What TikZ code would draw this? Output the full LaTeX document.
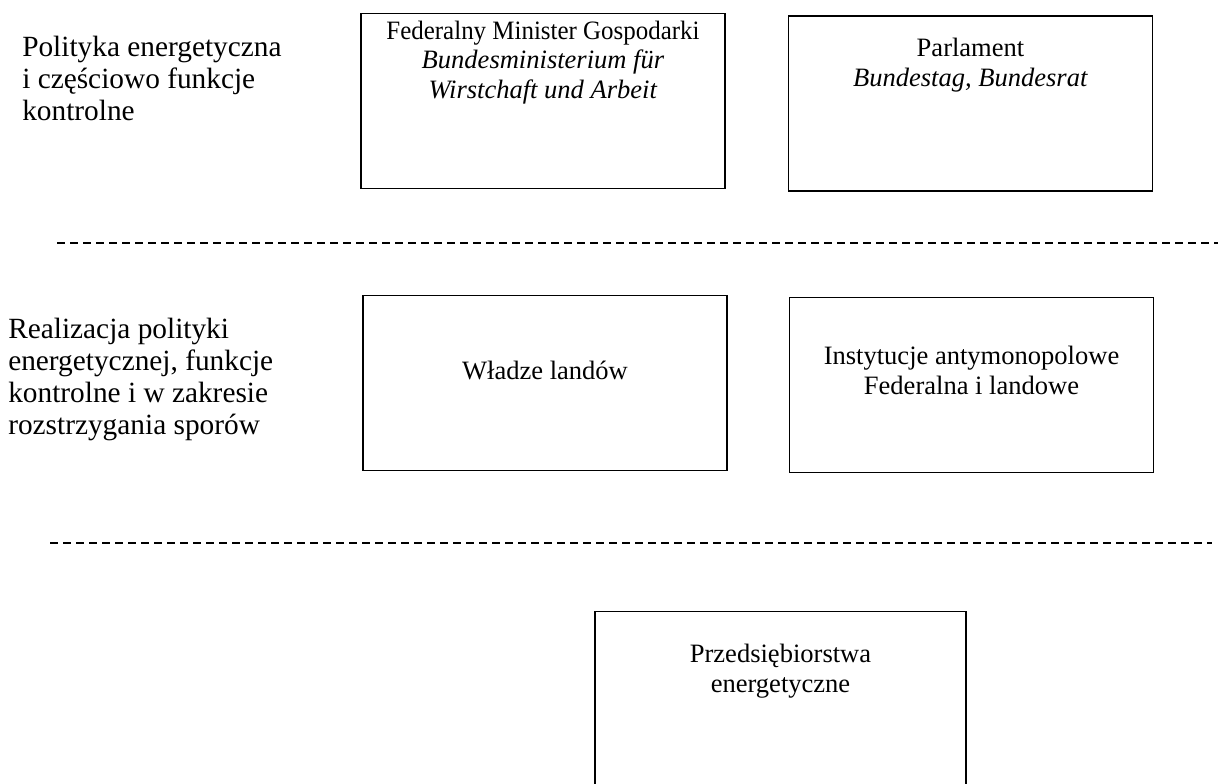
\documentclass[tikz,border=0pt]{standalone}
\usepackage{fontspec}
\setmainfont{Liberation Serif}
\usepackage{graphicx}
\tikzset{
  plbox/.style={draw=black, line width=1.1pt, inner sep=0pt,
    minimum width=273pt, minimum height=131pt},
  plwide/.style={plbox, minimum width=278pt},
  pltext/.style={anchor=base, align=center, inner sep=0pt,
    font=\fontsize{19.9}{22.1}\selectfont},
  pllevel/.style={anchor=base west, align=left, inner sep=0pt,
    font=\fontsize{22}{24}\selectfont},
  plsep/.style={line width=1.6pt, dash pattern=on 6pt off 3.75pt}
}

\begin{document}
\begin{tikzpicture}[x=0.75pt, y=-0.75pt]
  \clip (0,0) rectangle (1218,783);
  % level labels (anchored at the last line)
  \node[pllevel] (lvlone) at (22,120) {Polityka energetyczna\\i częściowo funkcje\\kontrolne};
  \node[pllevel] (lvltwo) at (8,434) {Realizacja polityki\\energetycznej, funkcje\\kontrolne i w zakresie\\rozstrzygania sporów};
  % boxes
  \node[plbox] (minister) at (543,101) {};
  \node[plbox] (parlament) at (970.5,103.5) {};
  \node[plbox] (landy) at (545,383) {};
  \node[plbox] (antymon) at (971.5,385) {};
  \node[plwide] (firmy) at (780.5,699) {};
  % texts in the boxes
  \node[pltext] (ministertxt) at (543,98) {\scalebox{0.94}[1]{Federalny Minister Gospodarki}\\\textit{Bundesministerium für}\\\textit{Wirstchaft und Arbeit}};
  \node[pltext] (parlamenttxt) at (970.5,86) {Parlament\\\textit{Bundestag, Bundesrat}};
  \node[pltext] (landytxt) at (545,379) {Władze landów};
  \node[pltext] (antymontxt) at (971.5,394) {Instytucje antymonopolowe\\Federalna i landowe};
  \node[pltext] (firmytxt) at (780.5,692) {Przedsiębiorstwa\\energetyczne};
  % separators
  \draw[plsep] (57,243) -- (1218,243);
  \draw[plsep] (50,543) -- (1212,543);
\end{tikzpicture}
\end{document}
